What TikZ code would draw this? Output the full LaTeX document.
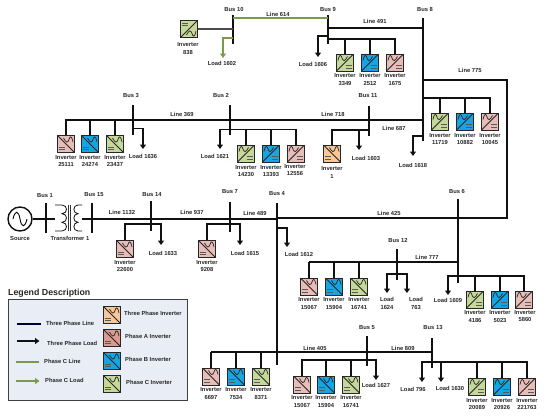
\documentclass[tikz,border=0pt]{standalone}
\usepackage{fontspec}
\setmainfont{Liberation Sans}
\usetikzlibrary{arrows.meta}
\definecolor{wirec}{HTML}{111111}
\definecolor{greenl}{HTML}{7C9A4C}
\definecolor{orangei}{HTML}{F7C79A}
\definecolor{pinki}{HTML}{E8BDB8}
\definecolor{redi}{HTML}{DB9A90}
\definecolor{bluei}{HTML}{15A5E3}
\definecolor{greeni}{HTML}{C5D89A}
\definecolor{legbg}{HTML}{E9EDF5}
\tikzset{
  wire/.style={draw=wirec,line width=1.5pt},
  load/.style={draw=wirec,line width=1.5pt,-{Triangle[length=4.5pt,width=6pt]}},
  gwire/.style={draw=greenl,line width=1.5pt},
  gload/.style={draw=greenl,line width=1.5pt,-{Triangle[length=4.5pt,width=6pt]}},
  busbar/.style={draw=none,fill=wirec,inner sep=0pt,minimum width=2.9pt},
  invbox/.style={draw=black!85,line width=0.8pt,inner sep=0pt,minimum width=17pt,minimum height=17pt},
  lab/.style={inner sep=0pt,align=center,font=\fontsize{5.8}{7.2}\selectfont\bfseries,text=black!85},
  leglab/.style={inner sep=0pt,anchor=west,font=\fontsize{5.8}{7}\selectfont\bfseries,text=black!85},
  coil/.style={draw=wirec,line width=0.8pt},
}
% name, x, y, colour, glyph transform
\newcommand{\invicon}[5]{%
  \node[invbox,fill=#4] (#1) at (#2,#3) {};
  \begin{scope}[shift={(#2,#3)},#5]
    \draw[black!85,line width=0.8pt] (8.2,-8.2) -- (-8.2,8.2);
    \draw[black!85,line width=0.7pt] (-7,-2) .. controls (-5.5,-9) and (-4,-8) .. (-2.8,-4) .. controls (-1.8,-1) and (0,-1) .. (2.5,-6);
    \fill[black!65] (1.2,2.8) rectangle (6.6,3.9);
    \fill[black!65] (1.2,5.0) rectangle (6.6,6.1);
  \end{scope}}
\newcommand{\busnode}[4]{\node[busbar,minimum height={(#4-#3)*1pt}] (#1) at (#2,{(#3+#4)/2}) {};}
\begin{document}
\begin{tikzpicture}[x=1pt,y=-1pt]
\useasboundingbox (0,0) rectangle (550,418);
% ---------- buses
\busnode{b10}{233}{15}{44}
\busnode{b9}{328}{15}{44}
\busnode{b8}{423}{18}{141}
\busnode{b3}{133}{105}{135}
\busnode{b2}{230}{105}{135}
\busnode{b11}{369}{106}{136}
\busnode{b1}{46}{203}{233}
\busnode{b15}{92}{203}{233}
\busnode{b14}{151}{201}{231}
\busnode{b7}{230}{202}{232}
\busnode{b4}{277}{203}{365}
\busnode{b6}{458}{199}{283}
\busnode{b12}{397}{249}{280}
\busnode{b5}{367}{336}{366}
\busnode{b13}{432}{338}{368}
% ---------- bus labels
\foreach \n/\x/\y/\t in {lb10/234/10/Bus 10,lb9/328/10/Bus 9,lb8/425/10/Bus 8,lb3/131/96/Bus 3,lb2/221/96/Bus 2,lb11/368/96/Bus 11,lb1/45/196/Bus 1,lb15/94/195/Bus 15,lb14/152/195/Bus 14,lb7/230/192/Bus 7,lb4/277/194/Bus 4,lb6/457/192/Bus 6,lb12/398/240/Bus 12,lb5/367/328/Bus 5,lb13/433/328/Bus 13}
  \node[lab] (\n) at (\x,\y) {\t};
% ---------- line labels
\foreach \n/\x/\y/\t in {l614/278/14/Line 614,l491/375/21/Line 491,l775/470/70/Line 775,l369/182/114/Line 369,l718/333/114/Line 718,l687/394/128/Line 687,l1132/122/212/Line 1132,l937/192/212/Line 937,l489/255/213/Line 489,l425/389/213/Line 425,l777/427/257/Line 777,l405/315/348/Line 405,l809/403/348/Line 809}
  \node[lab] (\n) at (\x,\y) {\t};
% ---------- load labels
\foreach \n/\x/\y/\t in {t1602/222/63/Load 1602,t1606/313/64/Load 1606,t1618/413/165/Load 1618,t1603/366/158/Load 1603,t1636/143/156/Load 1636,t1621/215/156/Load 1621,t1633/163/253/Load 1633,t1615/245/253/Load 1615,t1612/299/254/Load 1612,t1609/448/300/Load 1609,t1627/376/385/Load 1627,t796/413/389/Load 796,t1630/450/388/Load 1630}
  \node[lab] (\n) at (\x,\y) {\t};
\node[lab] (t1624) at (387,303.5) {Load\\1624};
\node[lab] (t763) at (416,303.5) {Load\\763};
% ---------- inverters
\invicon{i838}{189}{29}{greeni}{rotate=180}
\invicon{i3349}{345}{62.5}{greeni}{}
\invicon{i2512}{370}{62.5}{bluei}{}
\invicon{i1675}{395}{62.5}{pinki}{}
\invicon{i11719}{440}{121.5}{greeni}{}
\invicon{i10882}{465}{121.5}{bluei}{}
\invicon{i10045}{490}{121.5}{pinki}{}
\invicon{i25111}{66}{144}{pinki}{xscale=-1}
\invicon{i24274}{90}{144}{bluei}{xscale=-1}
\invicon{i23437}{115}{144}{greeni}{xscale=-1}
\invicon{i14230}{246}{153.5}{greeni}{}
\invicon{i13393}{271}{153.5}{bluei}{}
\invicon{i12556}{296}{153.5}{pinki}{}
\invicon{i1}{332}{153.5}{orangei}{xscale=-1}
\invicon{i22600}{125}{249}{pinki}{xscale=-1}
\invicon{i9208}{207}{249}{pinki}{xscale=-1}
\invicon{i15067a}{309}{286.5}{pinki}{xscale=-1}
\invicon{i15904a}{334}{286.5}{bluei}{xscale=-1}
\invicon{i16741a}{359}{286.5}{greeni}{xscale=-1}
\invicon{i4186}{475}{299.5}{greeni}{}
\invicon{i5023}{500}{299.5}{bluei}{}
\invicon{i5860}{524}{299.5}{pinki}{}
\invicon{i6697}{211}{376.5}{pinki}{xscale=-1}
\invicon{i7534}{236}{376.5}{bluei}{xscale=-1}
\invicon{i8371}{261}{376.5}{greeni}{xscale=-1}
\invicon{i15067b}{302}{384.5}{pinki}{xscale=-1}
\invicon{i15904b}{326}{384.5}{bluei}{xscale=-1}
\invicon{i16741b}{351}{384.5}{greeni}{xscale=-1}
\invicon{i20089}{477}{386.5}{greeni}{}
\invicon{i20926}{502}{386.5}{bluei}{}
\invicon{i221763}{527}{386.5}{pinki}{}
% ---------- inverter labels
\foreach \n/\x/\y/\t in {n838/188/48.5/838,n3349/345/79.5/3349,n2512/370/79.5/2512,n1675/395/79.5/1675,n11719/440/139/11719,n10882/465/139/10882,n10045/490/139/10045,n25111/66/161/25111,n24274/90/161/24274,n23437/115/161/23437,n14230/246/171/14230,n13393/271/171/13393,n12556/295/170/12556,n1/332/172.5/1,n22600/125/266/22600,n9208/207/266/9208,n15067a/309/303.5/15067,n15904a/334/303.5/15904,n16741a/359/303.5/16741,n4186/475/316.5/4186,n5023/500/316.5/5023,n5860/525/316/5860,n6697/211/393.5/6697,n7534/236/393.5/7534,n8371/261/393.5/8371,n15067b/302/401.5/15067,n15904b/326/401.5/15904,n16741b/351/401.5/16741,n20089/477/404/20089,n20926/502/404/20926,n221763/527/404/221763}
  \node[lab] (\n) at (\x,\y) {Inverter\\\t};
% ---------- three phase lines
\coordinate (c775a) at (423,80);
\coordinate (c775b) at (507,80);
\coordinate (c425) at (507,218);
\draw[gwire] (b10.center |- 0,18) -- (b9.center |- 0,18);
\draw[draw=black!70,line width=1.1pt] (i838.east) -- (b10.center |- i838.east);
\draw[wire] (b9.center |- 0,28) -- (b8.center |- 0,28);
\draw[wire] (c775a) -- (c775b) -- (c425) -- (b4.center |- c425);
\draw[wire] (b3.center |- 0,120) -- (b11.center |- 0,120);
\draw[wire] (b11.center |- 0,120) -- (b8.center |- 0,120);
\draw[wire] (b6.center |- 0,262) -- (i15067a.north |- 0,262);
\draw[wire] (b1.center |- 0,219) -- (55,219);
\draw[wire] (82,219) -- (b15.center |- 0,219);
\draw[wire] (b15.center |- 0,219) -- (b4.center |- 0,219);
\draw[wire] (i6697.north |- 0,352) -- (b13.center |- 0,352);
% ---------- source and transformer
\node[draw=wirec,line width=1.4pt,circle,minimum size=24pt,inner sep=0pt] (src) at (20,219) {};
\draw[black,line width=0.9pt] (13,219) .. controls (15,210) and (18.5,210) .. (20,219) .. controls (21.5,228) and (25,228) .. (27,219);
\draw[wire] (src.east) -- (b1.center |- src.east);
\node[lab] (tsrc) at (20,239) {Source};
\node[lab] (ttr) at (70,238) {Transformer 1};
\draw[coil] (55,205) -- (62,205) .. controls (68,205) and (68,213.67) .. (62,213.67) .. controls (68,213.67) and (68,222.33) .. (62,222.33) .. controls (68,222.33) and (68,231) .. (62,231) -- (55,231);
\draw[coil] (82,205) -- (78,205) .. controls (72.5,205) and (72.5,213.67) .. (78,213.67) .. controls (72.5,213.67) and (72.5,222.33) .. (78,222.33) .. controls (72.5,222.33) and (72.5,231) .. (78,231) -- (82,231);
\draw[black!80,line width=0.7pt] (68.6,205) -- (68.6,231);
\draw[black!80,line width=0.7pt] (70.8,205) -- (70.8,231);
% ---------- loads
\coordinate (e1602) at (223,58);
\draw[gload] (b10.center |- 0,38) -| (e1602);
\coordinate (e1606) at (318,57);
\draw[load] (b9.center |- 0,36) -| (e1606);
\coordinate (e1618) at (413,156);
\draw[load] (b8.center |- 0,136) -| (e1618);
\coordinate (e1603) at (359,150);
\draw[load] (e1603 |- 0,130) -- (e1603);
\coordinate (e1636) at (143,149);
\draw[load] (b3.center |- 0,128.5) -| (e1636);
\coordinate (e1621) at (220,149);
\draw[load] (b2.center |- 0,129.5) -| (e1621);
\coordinate (e1633) at (161,245);
\draw[load] (b14.center |- 0,224) -| (e1633);
\coordinate (e1615) at (240,245);
\draw[load] (b7.center |- 0,224) -| (e1615);
\coordinate (e1612) at (287,247);
\draw[load] (b4.center |- 0,228) -| (e1612);
\coordinate (e1624) at (387,293);
\coordinate (e763) at (407,293);
\draw[load] (b12.center |- 0,274) -| (e1624);
\draw[load] (b12.center |- 0,274) -| (e763);
\coordinate (e1609) at (448,295);
\draw[load] (b6.center |- 0,276) -| (e1609);
\coordinate (e1627) at (376,380);
\draw[load] (b5.center |- 0,360) -| (e1627);
\coordinate (e796) at (422,382);
\coordinate (e1630) at (441,382);
\draw[load] (b13.center |- 0,362) -| (e796);
\draw[load] (e1630 |- 0,362) -- (e1630);
% ---------- inverter feeders
\draw[wire] (b9.center |- 0,39) -| (i1675.north);
\draw[wire] (i3349.north |- 0,39) -- (i3349.north);
\draw[wire] (i2512.north |- 0,39) -- (i2512.north);
\draw[wire] (b8.center |- 0,98) -| (i10045.north);
\draw[wire] (i11719.north |- 0,98) -- (i11719.north);
\draw[wire] (i10882.north |- 0,98) -- (i10882.north);
\draw[wire] (b3.center |- 0,120) -| (i25111.north);
\draw[wire] (i24274.north |- 0,120) -- (i24274.north);
\draw[wire] (i23437.north |- 0,120) -- (i23437.north);
\draw[wire] (b2.center |- 0,129.5) -| (i12556.north);
\draw[wire] (i14230.north |- 0,129.5) -- (i14230.north);
\draw[wire] (i13393.north |- 0,129.5) -- (i13393.north);
\draw[wire] (b11.center |- 0,130) -| (i1.north);
\draw[wire] (b14.center |- 0,224) -| (i22600.north);
\draw[wire] (b7.center |- 0,224) -| (i9208.north);
\draw[wire] (i15067a.north |- 0,262) -- (i15067a.north);
\draw[wire] (i15904a.north |- 0,262) -- (i15904a.north);
\draw[wire] (i16741a.north |- 0,262) -- (i16741a.north);
\draw[wire] (b6.center |- 0,276) -| (i5860.north);
\draw[wire] (i4186.north |- 0,276) -- (i4186.north);
\draw[wire] (i5023.north |- 0,276) -- (i5023.north);
\draw[wire] (i6697.north |- 0,352) -- (i6697.north);
\draw[wire] (i7534.north |- 0,352) -- (i7534.north);
\draw[wire] (i8371.north |- 0,352) -- (i8371.north);
\draw[wire] (b5.center |- 0,360) -| (i15067b.north);
\draw[wire] (i15904b.north |- 0,360) -- (i15904b.north);
\draw[wire] (i16741b.north |- 0,360) -- (i16741b.north);
\draw[wire] (b13.center |- 0,362) -| (i221763.north);
\draw[wire] (i20089.north |- 0,362) -- (i20089.north);
\draw[wire] (i20926.north |- 0,362) -- (i20926.north);
% ---------- legend
\node[inner sep=0pt,anchor=west,font=\fontsize{8.8}{10}\selectfont\bfseries,text=black!85] (legtitle) at (8,293) {Legend Description};
\node[draw=black!75,line width=0.9pt,fill=legbg,minimum width=179pt,minimum height=101pt,inner sep=0pt] (legbox) at (97.5,349.5) {};
\coordinate (la1) at (17,324); \coordinate (la2) at (41,324);
\draw[draw=black!80!blue,line width=1.5pt] (la1) -- (la2);
\coordinate (lb1) at (17,341); \coordinate (lb2) at (39.5,341);
\draw[load] (lb1) -- (lb2);
\coordinate (lc1) at (16,362); \coordinate (lc2) at (39,362);
\draw[gwire] (lc1) -- (lc2);
\coordinate (ld1) at (16,381); \coordinate (ld2) at (39.5,381);
\draw[gload] (ld1) -- (ld2);
\node[leglab] (lt1) at (46,323) {Three Phase Line};
\node[leglab] (lt2) at (47,343) {Three Phase Load};
\node[leglab] (lt3) at (44,361) {Phase C Line};
\node[leglab] (lt4) at (45,380) {Phase C Load};
\invicon{lgi1}{112}{315}{orangei}{xscale=-1}
\invicon{lgi2}{112}{338}{redi}{xscale=-1}
\invicon{lgi3}{112}{361}{bluei}{xscale=-1}
\invicon{lgi4}{112}{384}{greeni}{xscale=-1}
\node[leglab] (lt5) at (124,313) {Three Phase Inverter};
\node[leglab] (lt6) at (125,336) {Phase A Inverter};
\node[leglab] (lt7) at (125,359) {Phase B Inverter};
\node[leglab] (lt8) at (126,382) {Phase C Inverter};
\end{tikzpicture}
\end{document}
